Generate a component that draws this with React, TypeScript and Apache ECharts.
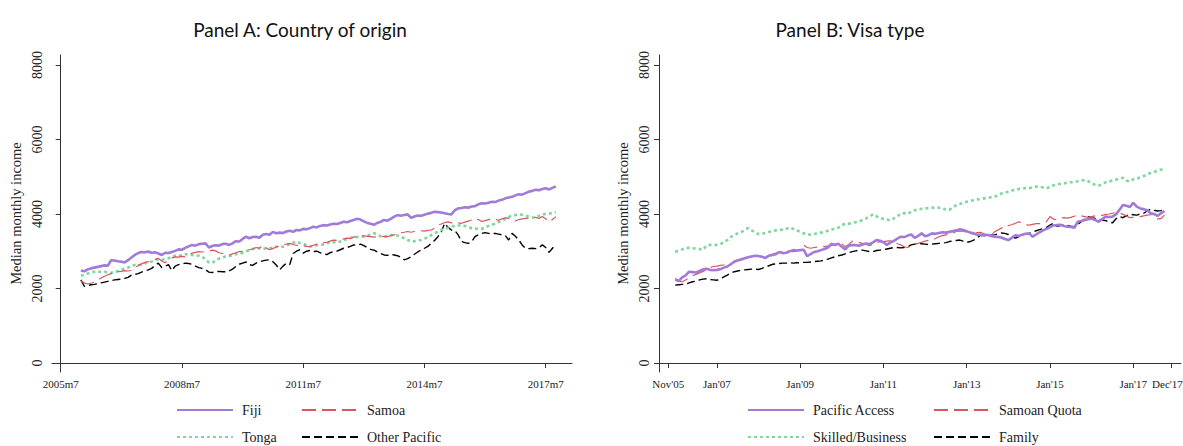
import React, { useEffect, useRef } from "react";
import * as echarts from "echarts";

// month index: 0 = 2005m7; first observation = 2006m1 (index 6), last = 2017m10 (index 147)
const START_MONTH = 6;

// Panel A: Country of origin
const fiji = [
  2480, 2460, 2510, 2540, 2560, 2580, 2600, 2620, 2610, 2760, 2750, 2730,
  2720, 2700, 2760, 2830, 2900, 2950, 2980, 2970, 2990, 2960, 2970, 2940,
  2900, 2960, 2950, 2980, 3010, 3050, 3040, 3090, 3130, 3170, 3150, 3190,
  3200, 3210, 3100, 3140, 3160, 3150, 3190, 3200, 3170, 3210, 3270, 3260,
  3330, 3390, 3350, 3380, 3390, 3360, 3440, 3460, 3440, 3520, 3480, 3500,
  3490, 3530, 3550, 3520, 3570, 3560, 3600, 3590, 3620, 3660, 3640, 3680,
  3700, 3690, 3720, 3740, 3730, 3760, 3790, 3780, 3810, 3840, 3870, 3850,
  3800, 3760, 3740, 3710, 3760, 3790, 3840, 3820, 3870, 3930, 3970, 3950,
  3970, 3990, 3900, 3930, 3960, 3950, 3980, 4010, 4030, 4060, 4050, 4040,
  4020, 4000, 3990, 4100, 4150, 4160, 4180, 4170, 4200, 4210, 4260, 4290,
  4280, 4300, 4330, 4320, 4360, 4380, 4420, 4440, 4460, 4500, 4530, 4520,
  4560, 4600, 4620, 4650, 4640, 4670, 4690, 4660, 4700, 4740,
];
const samoa = [
  2200, 2150, 2120, 2140, 2170, 2230, 2280, 2330, 2370, 2400, 2420, 2450,
  2460, 2480, 2470, 2490, 2560, 2620, 2660, 2700, 2720, 2760, 2780, 2810,
  2740, 2690, 2760, 2820, 2850, 2840, 2860, 2850, 2900, 2950, 2970, 2990,
  2980, 2990, 3000, 3030, 3010, 2960, 2940, 2920, 2900, 2930, 2960, 2990,
  3000, 3020, 3040, 3060, 3100, 3080, 3160, 3090, 3040, 3070, 3120, 3140,
  3180, 3190, 3210, 3180, 3160, 3140, 3150, 3130, 3120, 3160, 3190, 3210,
  3230, 3240, 3270, 3300, 3290, 3320, 3330, 3350, 3340, 3380, 3400, 3420,
  3410, 3400, 3390, 3380, 3390, 3400, 3390, 3390, 3420, 3440, 3480, 3500,
  3510, 3530, 3510, 3530, 3540, 3550, 3540, 3560, 3570, 3620, 3700, 3730,
  3770, 3790, 3760, 3740, 3760, 3750, 3780, 3810, 3840, 3880, 3850, 3800,
  3820, 3850, 3880, 3860, 3830, 3870, 3900, 3880, 3840, 3810, 3850, 3870,
  3880, 3890, 3900, 3910, 3880, 3930, 3870, 3790, 3850, 3930,
];
const tonga = [
  2340, 2370, 2400, 2420, 2450, 2460, 2440, 2450, 2430, 2420, 2430, 2470,
  2500, 2530, 2560, 2610, 2630, 2620, 2640, 2680, 2700, 2720, 2760, 2780,
  2770, 2790, 2810, 2850, 2880, 2870, 2900, 2920, 2910, 2900, 2890, 2880,
  2850, 2780, 2700, 2690, 2750, 2800, 2830, 2860, 2870, 2890, 2920, 2930,
  2960, 3000, 3030, 3060, 3090, 3080, 3060, 3080, 3080, 3100, 3120, 3110,
  3120, 3150, 3190, 3230, 3260, 3220, 3200, 3160, 3130, 3140, 3160, 3170,
  3180, 3200, 3250, 3240, 3230, 3260, 3300, 3330, 3360, 3370, 3380, 3390,
  3400, 3420, 3450, 3480, 3460, 3400, 3390, 3410, 3430, 3440, 3420, 3390,
  3350, 3300, 3260, 3270, 3290, 3300, 3330, 3380, 3430, 3480, 3530, 3570,
  3600, 3630, 3660, 3680, 3690, 3700, 3680, 3640, 3620, 3600, 3610, 3600,
  3640, 3680, 3710, 3740, 3780, 3820, 3870, 3920, 3950, 3970, 3990, 3980,
  3950, 3930, 3910, 3900, 3950, 3990, 4000, 4010, 4020, 4050,
];
const otherPacific = [
  2230, 2060, 2080, 2100, 2110, 2130, 2150, 2170, 2190, 2210, 2230, 2240,
  2250, 2270, 2300, 2360, 2380, 2400, 2440, 2470, 2500, 2540, 2620, 2680,
  2560, 2600, 2640, 2480, 2600, 2640, 2660, 2680, 2670, 2650, 2600, 2560,
  2540, 2500, 2440, 2430, 2450, 2460, 2450, 2450, 2470, 2520, 2590, 2650,
  2680, 2710, 2640, 2620, 2680, 2720, 2740, 2760, 2770, 2720, 2630, 2500,
  2600, 2680, 2640, 2940, 3000, 3040, 2950, 3000, 3020, 2990, 3000, 2960,
  2930, 2910, 2960, 2990, 3000, 3040, 3080, 3100, 3130, 3170, 3160, 3190,
  3150, 3100, 3050, 3030, 2980, 2940, 2900, 2890, 2920, 2900, 2880, 2840,
  2770, 2800, 2850, 2920, 2980, 3030, 3080, 3130, 3210, 3290, 3390, 3520,
  3750, 3640, 3570, 3560, 3440, 3260, 3230, 3210, 3260, 3390, 3440, 3480,
  3500, 3480, 3470, 3480, 3460, 3440, 3420, 3300, 3480, 3400, 3300, 3170,
  3080, 3070, 3080, 3070, 3100, 3170, 3100, 2970, 3080, 3190,
];

// Panel B: Visa type
const pacificAccess = [
  2240, 2200, 2300, 2350, 2450, 2440, 2430, 2470, 2510, 2530, 2500, 2490,
  2500, 2520, 2560, 2590, 2650, 2720, 2750, 2780, 2810, 2840, 2860, 2880,
  2870, 2850, 2820, 2880, 2900, 2920, 2980, 2950, 2960, 3000, 3030, 3020,
  3030, 3040, 2870, 2920, 2980, 3000, 3030, 3060, 3100, 3200, 3170, 3200,
  3120, 3050, 3150, 3170, 3160, 3150, 3180, 3210, 3190, 3240, 3300, 3280,
  3240, 3170, 3230, 3280, 3340, 3390, 3380, 3420, 3450, 3360, 3410, 3480,
  3400, 3430, 3480, 3470, 3490, 3510, 3500, 3520, 3540, 3560, 3590, 3570,
  3540, 3500, 3480, 3440, 3450, 3430, 3440, 3410, 3390, 3380, 3370, 3330,
  3300, 3360, 3430, 3410, 3440, 3470, 3480, 3390, 3450, 3510, 3560, 3600,
  3650, 3690, 3700, 3710, 3680, 3660, 3650, 3630, 3790, 3810, 3840, 3860,
  3880, 3840, 3790, 3860, 3930, 3920, 3930, 3990, 4110, 4240, 4220, 4190,
  4300, 4200, 4150, 4130, 4100, 4020, 4000, 3950, 4020, 4080,
];
const samoanQuota = [
  2270, 2200, 2180, 2230, 2290, 2340, 2380, 2420, 2460, 2500, 2560, 2590,
  2600, 2620, 2630, 2640, 2630, 2740, 2760, 2800, 2830, 2850, 2860, 2870,
  2860, 2850, 2860, 2890, 2920, 2950, 2970, 2990, 3000, 3000, 2990, 3010,
  3030, 3170, 3100, 3080, 3100, 3110, 3120, 3130, 3140, 3150, 3190, 3240,
  3200, 3120, 3180, 3270, 3250, 3230, 3210, 3180, 3150, 3200, 3240, 3250,
  3260, 3270, 3280, 3270, 3200, 3170, 3120, 3100, 3150, 3190, 3210, 3240,
  3270, 3290, 3300, 3340, 3390, 3420, 3440, 3450, 3490, 3530, 3540, 3540,
  3510, 3470, 3460, 3500, 3510, 3470, 3430, 3420, 3520, 3570, 3620, 3700,
  3690, 3710, 3750, 3790, 3760, 3710, 3700, 3720, 3740, 3740, 3750, 3800,
  3930, 3860, 3850, 3880, 3900, 3890, 3910, 3940, 3970, 3950, 3930, 3910,
  3930, 3950, 3970, 3960, 3990, 4000, 4020, 4040, 4030, 3990, 3950, 3900,
  3910, 3920, 3930, 3950, 3970, 3980, 3990, 3860, 3880, 3970,
];
const skilledBusiness = [
  2990, 3010, 3050, 3080, 3090, 3080, 3070, 3060, 3040, 3150, 3170, 3160,
  3170, 3190, 3240, 3300, 3380, 3440, 3480, 3510, 3570, 3620, 3560, 3510,
  3460, 3470, 3490, 3520, 3540, 3560, 3570, 3580, 3600, 3640, 3600, 3560,
  3520, 3480, 3460, 3440, 3460, 3480, 3500, 3520, 3550, 3580, 3610, 3630,
  3700, 3740, 3740, 3760, 3780, 3800, 3840, 3880, 3930, 3990, 3940, 3880,
  3870, 3850, 3830, 3880, 3930, 4010, 4020, 4000, 4060, 4100, 4120, 4140,
  4150, 4160, 4170, 4160, 4170, 4150, 4120, 4110, 4180, 4240, 4270, 4300,
  4330, 4350, 4370, 4390, 4400, 4420, 4430, 4450, 4460, 4500, 4550, 4570,
  4600, 4630, 4650, 4670, 4680, 4700, 4690, 4720, 4740, 4730, 4710, 4690,
  4720, 4770, 4790, 4810, 4820, 4840, 4850, 4870, 4880, 4900, 4910, 4880,
  4830, 4780, 4760, 4800, 4850, 4870, 4900, 4920, 4950, 4970, 4900, 4870,
  4930, 4950, 4980, 5020, 5060, 5100, 5130, 5160, 5190, 5230,
];
const family = [
  2090, 2100, 2110, 2120, 2150, 2180, 2200, 2230, 2250, 2260, 2240, 2230,
  2220, 2260, 2310, 2360, 2410, 2450, 2470, 2490, 2500, 2510, 2520, 2520,
  2510, 2540, 2580, 2610, 2650, 2660, 2670, 2680, 2680, 2690, 2680, 2690,
  2690, 2700, 2700, 2710, 2720, 2730, 2740, 2760, 2790, 2820, 2850, 2880,
  2900, 2930, 2960, 2990, 3010, 3030, 3030, 3010, 2990, 2990, 3020, 3030,
  3040, 3060, 3080, 3100, 3100, 3090, 3100, 3120, 3170, 3190, 3210, 3200,
  3190, 3180, 3190, 3200, 3210, 3220, 3230, 3260, 3280, 3290, 3300, 3270,
  3240, 3260, 3300, 3360, 3430, 3420, 3410, 3430, 3440, 3460, 3490, 3480,
  3450, 3400, 3350, 3390, 3440, 3460, 3480, 3510, 3550, 3580, 3610, 3640,
  3700, 3750, 3670, 3690, 3710, 3690, 3670, 3660, 3720, 3790, 3870, 3930,
  3900, 3880, 3860, 3840, 3820, 3790, 3760, 3870, 3930, 3900, 3950, 3990,
  3980, 3970, 4000, 4020, 4080, 4130, 4100, 4080, 4090, 4110,
];

const panelATicks = [0, 36, 72, 108, 144];
const panelALabels = ["2005m7", "2008m7", "2011m7", "2014m7", "2017m7"];
const panelBTicks = [4, 18, 42, 66, 90, 114, 138, 149];
const panelBLabels = ["Nov'05", "Jan'07", "Jan'09", "Jan'11", "Jan'13", "Jan'15", "Jan'17", "Dec'17"];
const yTicks = [0, 2000, 4000, 6000, 8000];

const PURPLE = "#a07bd9";
const RED = "#d9575c";
const GREEN = "#80d69c";
const BLACK = "#000000";
const SERIF = "'Liberation Serif', 'DejaVu Serif', serif";
const TITLE_FONT = "Lato, 'Open Sans', sans-serif";

function toPoints(values: number[]) {
  return values.map((v, i) => [START_MONTH + i, v]);
}

const styles: Record<string, { color: string; width: number; type: any }> = {
  solid: { color: PURPLE, width: 2.6, type: "solid" },
  longdash: { color: RED, width: 1.2, type: [14, 6] },
  dot: { color: GREEN, width: 2.6, type: [3, 3] },
  dash: { color: BLACK, width: 1.4, type: [8, 4] },
};

function makeSeries(name: string, values: number[], style: string, idx: number) {
  const s = styles[style];
  return {
    name,
    type: "line",
    xAxisIndex: idx,
    yAxisIndex: idx,
    data: toPoints(values),
    symbol: "none",
    showSymbol: false,
    color: s.color,
    lineStyle: { color: s.color, width: s.width, type: s.type, cap: "butt" },
  };
}

function makeXAxis(idx: number, min: number, max: number, ticks: number[], labels: string[], nudgeLast: boolean) {
  return {
    type: "value",
    gridIndex: idx,
    min,
    max,
    splitLine: { show: false },
    axisLine: { show: true, lineStyle: { color: "#333", width: 1 } },
    axisTick: { show: true, length: 5, lineStyle: { color: "#333" }, customValues: ticks },
    axisLabel: {
      show: true,
      customValues: ticks,
      margin: 6,
      fontFamily: SERIF,
      fontSize: 11,
      color: "#222",
      hideOverlap: false,
      rich: {
        last: { fontFamily: SERIF, fontSize: 11, color: "#222", padding: [0, 8, 0, 0] },
      },
      formatter: (v: number) => {
        const k = ticks.indexOf(v);
        if (k < 0) return "";
        if (nudgeLast && k === ticks.length - 1) return "{last|" + labels[k] + "}";
        return labels[k];
      },
    },
  };
}

function makeYAxis(idx: number) {
  return {
    type: "value",
    gridIndex: idx,
    min: -242,
    max: 8268,
    name: "Median monthly income",
    nameLocation: "middle",
    nameGap: 29,
    nameTextStyle: { fontFamily: SERIF, fontSize: 14.5, color: "#222" },
    splitLine: { show: false },
    axisLine: { show: true, lineStyle: { color: "#333", width: 1 } },
    axisTick: { show: true, length: 5, lineStyle: { color: "#333" }, customValues: yTicks },
    axisLabel: {
      show: true,
      customValues: yTicks,
      rotate: 90,
      margin: 8,
      fontFamily: SERIF,
      fontSize: 14,
      color: "#222",
      formatter: (v: number) => String(v),
    },
  };
}

function makeLegend(left: number, names: string[]) {
  return {
    left,
    top: 403,
    orient: "vertical",
    padding: 0,
    itemGap: 13,
    itemWidth: 56,
    itemHeight: 14,
    selectedMode: false,
    data: names,
    itemStyle: { opacity: 0 },
    textStyle: { fontFamily: SERIF, fontSize: 14, color: "#222", padding: [0, 0, 0, 4] },
  };
}

export default function App() {
  const ref = useRef<HTMLDivElement>(null);
  useEffect(() => {
    document.body.style.margin = "0";
    const chart = echarts.init(ref.current!, null, { renderer: "svg" });
    chart.setOption({
      animation: false,
      backgroundColor: "#ffffff",
      title: [
        {
          text: "Panel A: Country of origin",
          left: 295,
          top: 15,
          textAlign: "center",
          textStyle: { fontFamily: TITLE_FONT, fontSize: 19, fontWeight: "normal", color: "#111" },
        },
        {
          text: "Panel B: Visa type",
          left: 845,
          top: 15,
          textAlign: "center",
          textStyle: { fontFamily: TITLE_FONT, fontSize: 19, fontWeight: "normal", color: "#111" },
        },
      ],
      grid: [
        { left: 52, top: 55, width: 520, height: 317, outerBoundsMode: "none", containLabel: false },
        { left: 659, top: 55, width: 522, height: 317, outerBoundsMode: "none", containLabel: false },
      ],
      xAxis: [
        makeXAxis(0, -2.58, 151.8, panelATicks, panelALabels, false),
        makeXAxis(1, 1.32, 151.75, panelBTicks, panelBLabels, true),
      ],
      yAxis: [makeYAxis(0), makeYAxis(1)],
      legend: [
        makeLegend(176, ["Fiji", "Tonga"]),
        makeLegend(301, ["Samoa", "Other Pacific"]),
        makeLegend(747, ["Pacific Access", "Skilled/Business"]),
        makeLegend(933, ["Samoan Quota", "Family"]),
      ],
      series: [
        makeSeries("Other Pacific", otherPacific, "dash", 0),
        makeSeries("Tonga", tonga, "dot", 0),
        makeSeries("Samoa", samoa, "longdash", 0),
        makeSeries("Fiji", fiji, "solid", 0),
        makeSeries("Family", family, "dash", 1),
        makeSeries("Skilled/Business", skilledBusiness, "dot", 1),
        makeSeries("Samoan Quota", samoanQuota, "longdash", 1),
        makeSeries("Pacific Access", pacificAccess, "solid", 1),
      ],
    });
    return () => chart.dispose();
  }, []);
  return (
    <div
      ref={ref}
      style={{ position: "absolute", left: 0, top: 0, width: 1183, height: 446 }}
    />
  );
}
